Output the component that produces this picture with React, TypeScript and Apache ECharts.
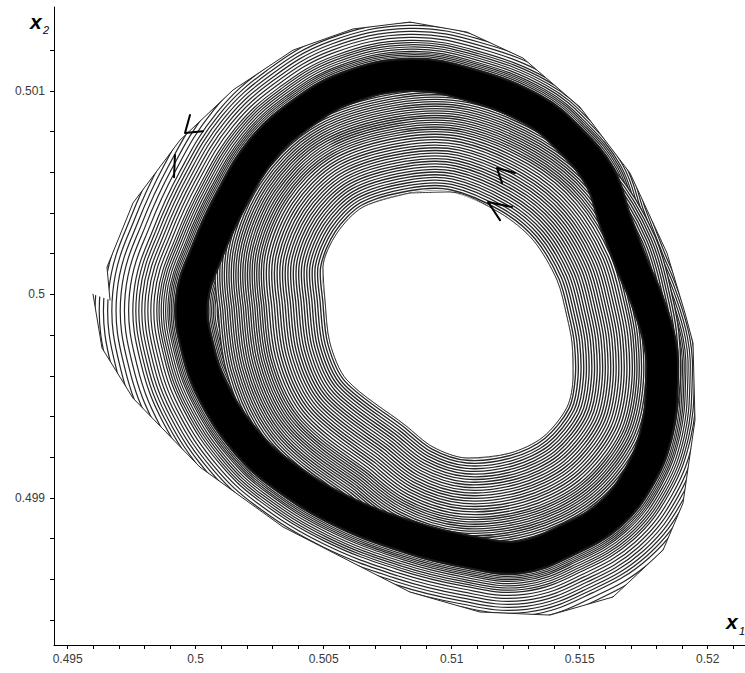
import React, { useEffect, useRef } from "react";
import * as echarts from "echarts";

// Axis ranges (data units)
const X_MIN = 0.494465;
const X_MAX = 0.521457;
const Y_MIN = 0.498277;
const Y_MAX = 0.501412;

const X_LABELS = [0.495, 0.5, 0.505, 0.51, 0.515, 0.52];
const X_TICKS = [0.495, 0.496, 0.497, 0.498, 0.499, 0.5, 0.501, 0.502, 0.503, 0.504, 0.505, 0.506, 0.507, 0.508, 0.509, 0.51, 0.511, 0.512, 0.513, 0.514, 0.515, 0.516, 0.517, 0.518, 0.519, 0.52, 0.521];
const Y_LABELS = [0.499, 0.5, 0.501];
const Y_TICKS = [0.4984, 0.4986, 0.4988, 0.499, 0.4992, 0.4994, 0.4996, 0.4998, 0.5, 0.5002, 0.5004, 0.5006, 0.5008, 0.501, 0.5012];

// Outermost trajectory turn (starts at the lower-left end point)
const OUTER_X1 = [0.495988, 0.49634, 0.497551, 0.500168, 0.50341, 0.508371, 0.511105, 0.51384, 0.516301, 0.518254, 0.519035, 0.519504, 0.519426, 0.519113, 0.51841, 0.516965, 0.515012, 0.512785, 0.510598, 0.508371, 0.506145, 0.503801, 0.501457, 0.499387, 0.497551, 0.496535, 0.496652];
const OUTER_X2 = [0.500001, 0.499736, 0.49949, 0.499151, 0.498857, 0.498537, 0.498439, 0.498424, 0.498513, 0.498743, 0.498974, 0.499382, 0.499761, 0.499908, 0.500203, 0.500596, 0.50092, 0.501161, 0.501289, 0.501338, 0.501304, 0.5012, 0.501004, 0.500758, 0.500449, 0.500134, 0.499972];

// Centre of the dense limit-cycle band
const BAND_X1 = [0.499855, 0.50009, 0.500754, 0.501926, 0.503293, 0.505637, 0.508371, 0.510715, 0.512668, 0.514504, 0.516184, 0.517355, 0.51802, 0.518215, 0.518137, 0.517629, 0.517082, 0.516379, 0.515793, 0.514621, 0.513176, 0.510715, 0.508371, 0.50591, 0.504074, 0.50259, 0.501379, 0.50048];
const BAND_X2 = [0.499972, 0.499726, 0.499505, 0.499284, 0.499122, 0.49894, 0.498807, 0.498734, 0.498709, 0.498793, 0.49892, 0.499112, 0.499333, 0.499579, 0.499761, 0.499972, 0.500134, 0.500365, 0.500576, 0.500758, 0.500906, 0.501029, 0.501078, 0.501014, 0.500881, 0.500709, 0.500463, 0.500218];

// Innermost turn (edge of the empty hole)
const HOLE_X1 = [0.508371, 0.509934, 0.511887, 0.513176, 0.514113, 0.514504, 0.514699, 0.514738, 0.514504, 0.513566, 0.512277, 0.510598, 0.50927, 0.508176, 0.50591, 0.505246, 0.505051, 0.504973, 0.50552, 0.506535];
const HOLE_X2 = [0.500498, 0.500503, 0.5004, 0.500267, 0.50007, 0.499888, 0.499761, 0.499594, 0.499446, 0.499299, 0.49922, 0.499196, 0.49925, 0.499358, 0.499579, 0.499761, 0.499972, 0.500134, 0.500301, 0.500429];

// Direction arrows
const ARROW_A_X1 = [0.499777, 0.499582, 0.500285];
const ARROW_A_X2 = [0.500881, 0.500793, 0.500802];
const ARROW_B_X1 = [0.499191, 0.499152];
const ARROW_B_X2 = [0.500685, 0.500576];
const ARROW_C_X1 = [0.512473, 0.51177, 0.511965];
const ARROW_C_X2 = [0.500596, 0.500621, 0.500547];
const ARROW_D_X1 = [0.512355, 0.511418, 0.511887];
const ARROW_D_X2 = [0.500429, 0.500454, 0.500365];

const LINE = "#262626";

const pairs = (xs: number[], ys: number[]) => xs.map((x, i) => [x, ys[i]]);

// concentric stroke texture (style only): alternating dark / white strokes
type Ring = { w: number; c: string };
const makeRings = (rMax: number, rMin: number, gap: (r: number) => number, lw: number): Ring[] => {
  const out: Ring[] = [];
  let r = rMax;
  while (r > rMin) {
    out.push({ w: 2 * r, c: LINE });
    out.push({ w: Math.max(0.1, 2 * (r - lw)), c: "#ffffff" });
    r -= gap(r);
  }
  return out;
};
const BAND_RINGS = makeRings(118, 15, (r) => (r > 62 ? 4.2 : r > 36 ? 3 : r > 26 ? 2.2 : 1.7), 1.2);
const HOLE_RINGS = makeRings(108, 0, (r) => (r > 60 ? 2.3 : 2.7), 1.35);

const customBase = (xs: number[], ys: number[], z: number, build: (pts: number[][], params: any, api: any) => any) => ({
  type: "custom",
  z,
  silent: true,
  clip: true,
  data: pairs(xs, ys),
  encode: { x: 0, y: 1 },
  renderItem: (params: any, api: any) => {
    if (params.dataIndex !== 0) return null;
    const pts = xs.map((x, i) => api.coord([x, ys[i]]));
    return build(pts, params, api);
  },
});

const ringSeries = (xs: number[], ys: number[], z: number, rings: Ring[], smooth: number) =>
  customBase(xs, ys, z, (pts) => ({
    type: "group",
    children: rings.map((r) => ({
      type: "polygon",
      shape: { points: pts, smooth },
      style: { fill: "none", stroke: r.c, lineWidth: r.w, lineJoin: "round" },
    })),
  }));

const fillSeries = (xs: number[], ys: number[], z: number, fill: string, smooth: number) =>
  customBase(xs, ys, z, (pts) => ({
    type: "polygon",
    shape: { points: pts, smooth },
    style: { fill, stroke: "none" },
  }));

// white mask covering everything outside the outermost turn
const maskSeries = (xs: number[], ys: number[], z: number) => ({
  ...customBase(xs, ys, z, (pts, _params, api) => {
    const W = api.getWidth();
    const H = api.getHeight();
    const rect = [
      [-5, -5],
      [W + 5, -5],
      [W + 5, H + 5],
      [-5, H + 5],
    ];
    const area = (p: number[][]) => {
      let s = 0;
      for (let i = 0; i < p.length; i++) {
        const a = p[i];
        const b = p[(i + 1) % p.length];
        s += a[0] * b[1] - b[0] * a[1];
      }
      return s;
    };
    let loop = pts.slice();
    if (Math.sign(area(loop)) === Math.sign(area(rect))) loop = loop.reverse();
    const poly = [...rect, rect[0], ...loop, loop[0], rect[0]];
    return { type: "polygon", shape: { points: poly }, style: { fill: "#ffffff", stroke: "none" } };
  }),
  clip: false,
});

const lineSeries = (xs: number[], ys: number[], color: string, width: number, z: number, smooth: any = false) => ({
  type: "line",
  z,
  silent: true,
  data: pairs(xs, ys),
  symbol: "none",
  smooth,
  lineStyle: { color, width, cap: "round", join: "round" },
});

const fmt = (v: number) => String(parseFloat(v.toFixed(4)));

export default function App() {
  const ref = useRef<HTMLDivElement>(null);
  useEffect(() => {
    const chart = echarts.init(ref.current!, null, { renderer: "svg" });
    const labelFont = { fontFamily: "Liberation Sans", fontSize: 12, color: "#3a3a3a" };
    chart.setOption({
      animation: false,
      backgroundColor: "#ffffff",
      grid: { left: 54, right: 0, top: 7, bottom: 28, containLabel: false },
      xAxis: {
        type: "value",
        min: X_MIN,
        max: X_MAX,
        z: 20,
        axisLine: { show: true, onZero: false, lineStyle: { color: "#000", width: 1 } },
        axisTick: { show: true, length: 4, customValues: X_TICKS, lineStyle: { color: "#000" } },
        axisLabel: { ...labelFont, margin: 8, customValues: X_LABELS, formatter: (v: number) => fmt(v) },
        splitLine: { show: false },
      },
      yAxis: {
        type: "value",
        min: Y_MIN,
        max: Y_MAX,
        z: 20,
        axisLine: { show: true, onZero: false, lineStyle: { color: "#000", width: 1 } },
        axisTick: { show: true, length: 4, customValues: Y_TICKS, lineStyle: { color: "#000" } },
        axisLabel: { ...labelFont, margin: 9, customValues: Y_LABELS, formatter: (v: number) => fmt(v) },
        splitLine: { show: false },
      },
      graphic: [
        { type: "text", left: 30, top: 11, z: 30, style: { text: "x", font: "italic bold 21px 'Liberation Sans'", fill: "#000" } },
        { type: "text", left: 43, top: 24, z: 30, style: { text: "2", font: "italic 11px 'Liberation Sans'", fill: "#000" } },
        { type: "text", left: 726, top: 611, z: 30, style: { text: "x", font: "italic bold 21px 'Liberation Sans'", fill: "#000" } },
        { type: "text", left: 739, top: 625, z: 30, style: { text: "1", font: "italic 11px 'Liberation Sans'", fill: "#000" } },
      ],
      series: [
        ringSeries(BAND_X1, BAND_X2, 2, BAND_RINGS, 0.4),
        ringSeries(HOLE_X1, HOLE_X2, 3, HOLE_RINGS, 0.3),
        ringSeries(BAND_X1, BAND_X2, 4, [{ w: 34, c: "#1a1a1a" }, { w: 30, c: "#000000" }], 0.4),
        fillSeries(HOLE_X1, HOLE_X2, 5, "#ffffff", 0.3),
        maskSeries(OUTER_X1, OUTER_X2, 6),
        lineSeries(OUTER_X1, OUTER_X2, "#2a2a2a", 1, 7),
        lineSeries([...HOLE_X1, HOLE_X1[0]], [...HOLE_X2, HOLE_X2[0]], "#3a3a3a", 1, 7, 0.3),
        lineSeries(ARROW_A_X1, ARROW_A_X2, "#000", 2, 8),
        lineSeries(ARROW_B_X1, ARROW_B_X2, "#000", 2, 8),
        lineSeries(ARROW_C_X1, ARROW_C_X2, "#000", 2, 8),
        lineSeries(ARROW_D_X1, ARROW_D_X2, "#000", 2, 8),
      ],
    });
    return () => chart.dispose();
  }, []);
  return (
    <div
      ref={ref}
      style={{ position: "absolute", left: 0, top: 0, width: 745, height: 673, background: "#fff" }}
    />
  );
}
